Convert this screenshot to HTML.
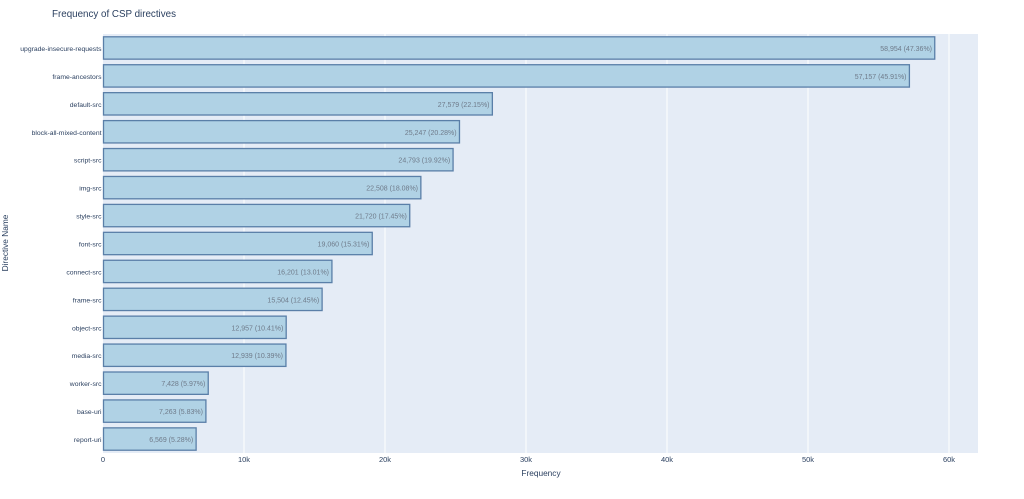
<!DOCTYPE html>
<html><head><meta charset="utf-8"><style>body{margin:0;background:#fff}svg{display:block}text{font-family:"Liberation Sans",sans-serif}</style></head><body>
<svg width="1024" height="499" xmlns="http://www.w3.org/2000/svg">
<rect x="0" y="0" width="1024" height="499" fill="#fff"/>
<text x="52" y="17" font-size="9.8" fill="#2a3f5f">Frequency of CSP directives</text>
<rect x="103" y="34" width="875" height="419" fill="#e5ecf6"/>
<g stroke="#fff" stroke-width="1">
<line x1="244" y1="34" x2="244" y2="453"/><line x1="385" y1="34" x2="385" y2="453"/><line x1="526" y1="34" x2="526" y2="453"/><line x1="667" y1="34" x2="667" y2="453"/><line x1="808" y1="34" x2="808" y2="453"/><line x1="949" y1="34" x2="949" y2="453"/>
</g>
<g font-size="7.5" fill="#2a3f5f" text-anchor="middle">
<text x="103" y="462">0</text><text x="244" y="462">10k</text><text x="385" y="462">20k</text><text x="526" y="462">30k</text><text x="667" y="462">40k</text><text x="808" y="462">50k</text><text x="949" y="462">60k</text>
</g>
<text x="541" y="476" font-size="8.3" fill="#2a3f5f" text-anchor="middle">Frequency</text>
<text transform="translate(8,243) rotate(-90)" font-size="8.3" fill="#2a3f5f" text-anchor="middle">Directive Name</text>
<g fill="#b0d2e5" stroke="#5a7fa8" stroke-width="1.3">
<rect x="103.5" y="36.8" width="831.25" height="22.35"/>
<rect x="103.5" y="64.73" width="805.91" height="22.35"/>
<rect x="103.5" y="92.66" width="388.86" height="22.35"/>
<rect x="103.5" y="120.6" width="355.98" height="22.35"/>
<rect x="103.5" y="148.53" width="349.58" height="22.35"/>
<rect x="103.5" y="176.46" width="317.36" height="22.35"/>
<rect x="103.5" y="204.4" width="306.25" height="22.35"/>
<rect x="103.5" y="232.33" width="268.75" height="22.35"/>
<rect x="103.5" y="260.26" width="228.43" height="22.35"/>
<rect x="103.5" y="288.2" width="218.61" height="22.35"/>
<rect x="103.5" y="316.13" width="182.69" height="22.35"/>
<rect x="103.5" y="344.06" width="182.44" height="22.35"/>
<rect x="103.5" y="372" width="104.73" height="22.35"/>
<rect x="103.5" y="399.93" width="102.41" height="22.35"/>
<rect x="103.5" y="427.86" width="92.62" height="22.35"/>
</g>
<g font-size="7" fill="#6f7b8a" text-anchor="end">
<text x="932" y="51">58,954 (47.36%)</text>
<text x="906.5" y="78.9">57,157 (45.91%)</text>
<text x="489.5" y="106.8">27,579 (22.15%)</text>
<text x="456.6" y="134.8">25,247 (20.28%)</text>
<text x="450.2" y="162.7">24,793 (19.92%)</text>
<text x="418" y="190.6">22,508 (18.08%)</text>
<text x="406.9" y="218.6">21,720 (17.45%)</text>
<text x="369.4" y="246.5">19,060 (15.31%)</text>
<text x="329" y="274.4">16,201 (13.01%)</text>
<text x="319.2" y="302.4">15,504 (12.45%)</text>
<text x="283.3" y="330.3">12,957 (10.41%)</text>
<text x="283" y="358.2">12,939 (10.39%)</text>
<text x="205.3" y="386.2">7,428 (5.97%)</text>
<text x="203" y="414.1">7,263 (5.83%)</text>
<text x="193.2" y="442">6,569 (5.28%)</text>
</g>
<g font-size="6.8" fill="#2a3f5f" text-anchor="end">
<text x="101.5" y="51">upgrade-insecure-requests</text>
<text x="101.5" y="78.9">frame-ancestors</text>
<text x="101.5" y="106.8">default-src</text>
<text x="101.5" y="134.8">block-all-mixed-content</text>
<text x="101.5" y="162.7">script-src</text>
<text x="101.5" y="190.6">img-src</text>
<text x="101.5" y="218.6">style-src</text>
<text x="101.5" y="246.5">font-src</text>
<text x="101.5" y="274.4">connect-src</text>
<text x="101.5" y="302.4">frame-src</text>
<text x="101.5" y="330.3">object-src</text>
<text x="101.5" y="358.2">media-src</text>
<text x="101.5" y="386.2">worker-src</text>
<text x="101.5" y="414.1">base-uri</text>
<text x="101.5" y="442">report-uri</text>
</g>
</svg>
</body></html>
